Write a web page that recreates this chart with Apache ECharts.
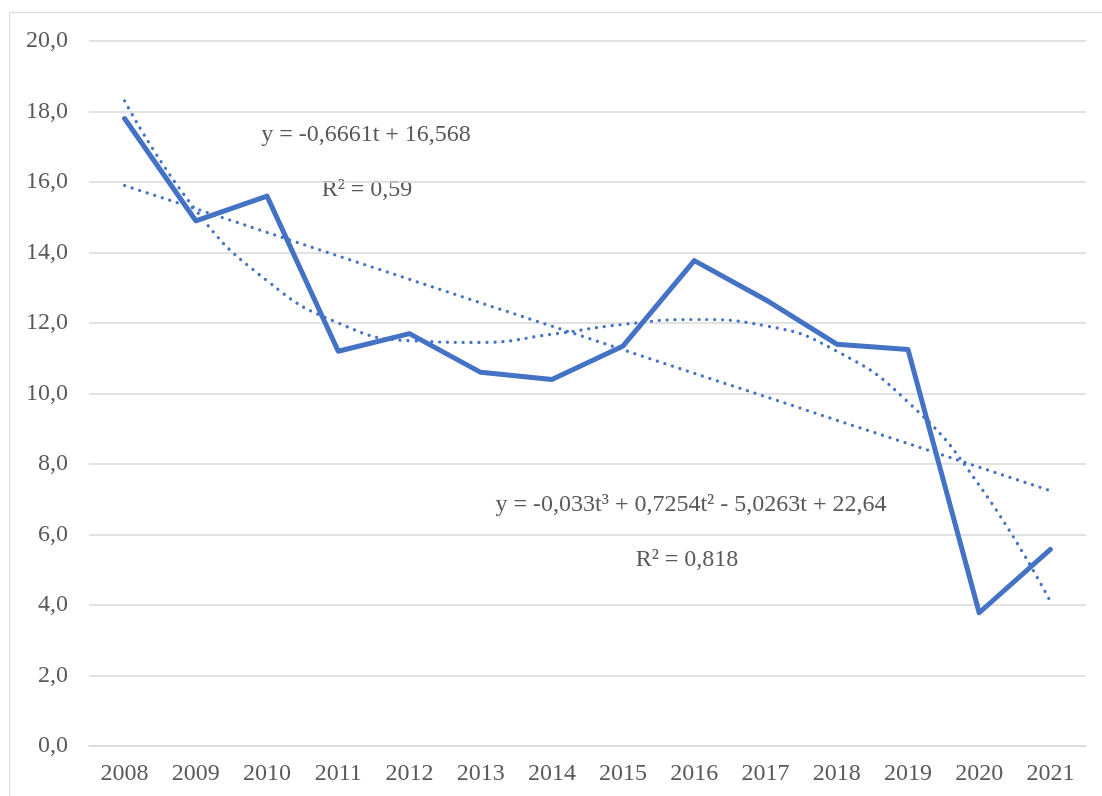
<!DOCTYPE html>
<html>
<head>
<meta charset="utf-8">
<script src="https://cdn.jsdelivr.net/npm/echarts@6/dist/echarts.min.js"></script>
<style>
html, body { margin: 0; padding: 0; background: #fff; }
#chart { width: 1102px; height: 796px; }
</style>
</head>
<body>
<div id="chart"></div>
<script>
var years = ['2008', '2009', '2010', '2011', '2012', '2013', '2014', '2015', '2016', '2017', '2018', '2019', '2020', '2021'];
var valores = [17.8, 14.9, 15.6, 11.2, 11.7, 10.6, 10.4, 11.35, 13.77, 12.66, 11.4, 11.25, 3.78, 5.58];
// tendencias
var tendLineal = [15.9, 15.24, 14.57, 13.9, 13.24, 12.57, 11.91, 11.24, 10.57, 9.91, 9.24, 8.58, 7.91, 7.24];
var tendCubica = [18.3, 15.2, 13.2, 12.0, 11.5, 11.45, 11.68, 11.96, 12.1, 11.92, 11.2, 9.76, 7.4, 4.1];
var ecLineal = ['y = -0,6661t + 16,568', 'R² = 0,59'];
var ecCubica = ['y = -0,033t³ + 0,7254t² - 5,0263t + 22,64', 'R² = 0,818'];

var AZUL = '#4472C4';
var GRIS = '#595959';
var FUENTE = '"Liberation Serif", "DejaVu Serif", serif';

var grafico = echarts.init(document.getElementById('chart'));

function texto(x, y, t) {
    return {
        type: 'text',
        x: x,
        y: y,
        style: {
            text: t,
            fill: GRIS,
            font: '24px ' + FUENTE,
            textAlign: 'center',
            textVerticalAlign: 'middle'
        }
    };
}

var opcion = {
    animation: false,
    backgroundColor: '#fff',
    grid: {
        left: 89,
        right: 16,
        top: 41,
        bottom: 50
    },
    xAxis: {
        type: 'category',
        data: years,
        boundaryGap: true,
        axisLine: { show: true, lineStyle: { color: '#d9d9d9', width: 1.5 } },
        axisTick: { show: false },
        axisLabel: {
            color: GRIS,
            fontFamily: FUENTE,
            fontSize: 24,
            margin: 16
        }
    },
    yAxis: {
        type: 'value',
        min: 0,
        max: 20,
        interval: 2,
        axisLine: { show: false },
        axisTick: { show: false },
        splitLine: { lineStyle: { color: '#d9d9d9', width: 1.5 } },
        axisLabel: {
            color: GRIS,
            fontFamily: FUENTE,
            fontSize: 24,
            margin: 21,
            formatter: function (v) {
                return v.toFixed(1).replace('.', ',');
            }
        }
    },
    series: [
        {
            name: 'lineal',
            type: 'line',
            data: tendLineal,
            symbol: 'none',
            lineStyle: { color: AZUL, width: 3.2, type: [0.1, 7.8], cap: 'round' },
            z: 2
        },
        {
            name: 'cubica',
            type: 'line',
            data: tendCubica,
            smooth: 0.5,
            symbol: 'none',
            lineStyle: { color: AZUL, width: 3.2, type: [0.1, 7.8], cap: 'round' },
            z: 2
        },
        {
            name: 'valor',
            type: 'line',
            data: valores,
            symbol: 'none',
            lineStyle: { color: AZUL, width: 5, join: 'round', cap: 'round' },
            z: 3
        }
    ],
    graphic: [
        {
            type: 'rect',
            shape: { x: 9.5, y: 12.5, width: 1200, height: 900 },
            style: { fill: 'none', stroke: '#d9d9d9', lineWidth: 1 },
            silent: true,
            z: -1
        },
        texto(366, 135, ecLineal[0]),
        texto(367, 190, ecLineal[1]),
        texto(691, 505, ecCubica[0]),
        texto(687, 560, ecCubica[1])
    ]
};

grafico.setOption(opcion);
</script>
</body>
</html>
